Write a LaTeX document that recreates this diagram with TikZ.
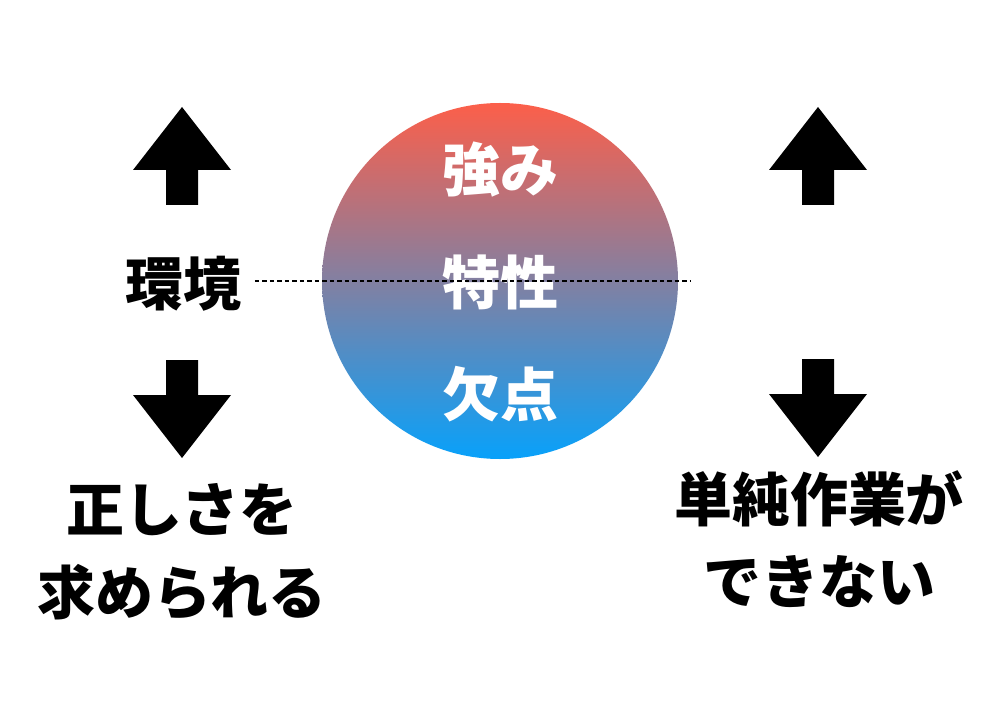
\documentclass[tikz,border=0pt]{standalone}
\usepackage{fontspec}
\newfontfamily\jpfont{Noto Sans CJK JP}
\usepackage{tikz}
\usetikzlibrary{positioning}
\definecolor{ballred}{RGB}{252,95,74}
\definecolor{ballblue}{RGB}{8,161,250}

\begin{document}
\begin{tikzpicture}[
  x=0.2mm,y=0.2mm,
  every node/.style={font=\jpfont\bfseries\fontsize{33pt}{47pt}\selectfont,inner sep=2pt},
  bigtext/.style={text=black,align=center},
  balltext/.style={text=white},
  ball/.style={circle,minimum size=71.2mm,inner sep=0pt,top color=ballred,bottom color=ballblue},
  uparr/.pic={\fill[black] (0,0) -- (49,-63) -- (16,-63) -- (16,-98) -- (-16,-98) -- (-16,-63) -- (-49,-63) -- cycle;},
]
  \useasboundingbox (0,0) rectangle (1000,712);

  % circle with traits
  \node[ball] (ball) at (500,431) {};
  \node[balltext] (strong) at (500,542) {強み};
  \node[balltext] (trait) at (500,430) {特性};
  \node[balltext] (weak) at (500,318) {欠点};

  % left side
  \node[bigtext] (kankyo) at (183,428) {環境};
  \pic at (182,605) {uparr};
  \pic[rotate=180] at (182,254) {uparr};
  \node[bigtext] (seikaku) at (182,160) {正しさを\\求められる};

  % right side
  \pic at (818,605) {uparr};
  \pic[rotate=180] at (818,255) {uparr};
  \node[bigtext] (tanjun) at (819,173) {単純作業が\\できない};

  % divider
  \coordinate (dashend) at (690,431);
  \draw[black,line width=1pt,dash pattern=on 0.9mm off 0.6mm] ([xshift=2mm]kankyo.east |- dashend) -- (dashend);
\end{tikzpicture}
\end{document}
